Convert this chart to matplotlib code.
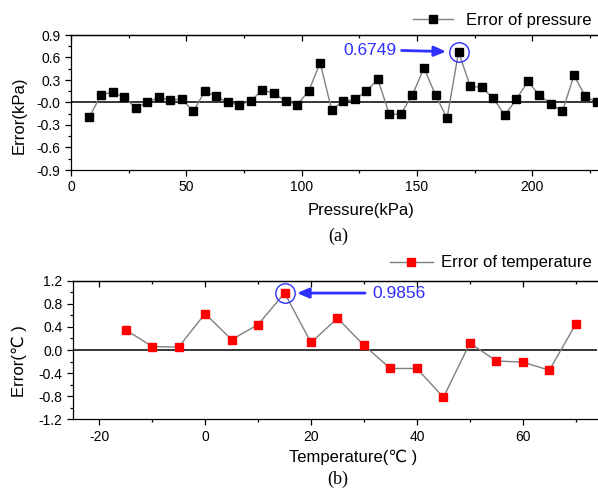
import numpy as np
import matplotlib
matplotlib.use("Agg")
import matplotlib.pyplot as plt
from matplotlib.ticker import MultipleLocator

plt.rcParams.update({
    "font.family": ["Liberation Sans", "DejaVu Sans"],
    "font.size": 10,
    "axes.linewidth": 0.9,
    "axes.unicode_minus": False,
})

# ---- data (a): pressure error ----
pressure = np.arange(8, 229, 5)
err_pressure = [-0.19, 0.10, 0.14, 0.07, -0.07, 0.00, 0.07, 0.03, 0.05, -0.12,
                0.15, 0.08, 0.00, -0.03, 0.02, 0.17, 0.12, 0.02, -0.03, 0.15,
                0.53, -0.10, 0.02, 0.04, 0.15, 0.31, -0.16, -0.15, 0.10, 0.46,
                0.10, -0.21, 0.6749, 0.22, 0.20, 0.06, -0.17, 0.04, 0.28, 0.10,
                -0.02, -0.12, 0.36, 0.08, 0.00]
peak_p = (168, 0.6749)

# ---- data (b): temperature error ----
temperature = [-15, -10, -5, 0, 5, 10, 15, 20, 25, 30, 35, 40, 45, 50, 55, 60, 65, 70]
err_temperature = [0.35, 0.06, 0.05, 0.63, 0.18, 0.44, 0.9856, 0.13, 0.55, 0.08,
                   -0.32, -0.32, -0.82, 0.12, -0.19, -0.21, -0.35, 0.45]
peak_t = (15, 0.9856)

W, H = 598, 490
fig = plt.figure(figsize=(W / 100, H / 100), dpi=100)


def px(x0, y0, x1, y1):
    return [x0 / W, 1 - y1 / H, (x1 - x0) / W, (y1 - y0) / H]


BLUE = "#2f2fff"


def style(ax):
    ax.spines["right"].set_visible(False)
    ax.tick_params(which="both", direction="out", top=False, right=False, labelsize=10)
    ax.tick_params(which="major", length=4, width=0.9)
    ax.tick_params(which="minor", length=2.5, width=0.9)
    ax.axhline(0, color="black", linewidth=1.1, zorder=1)
    sec = ax.secondary_xaxis("top")
    sec.tick_params(which="both", direction="in", labeltop=False)
    sec.tick_params(which="major", length=4, width=0.9)
    sec.tick_params(which="minor", length=2.5, width=0.9)
    sec.xaxis.set_major_locator(ax.xaxis.get_major_locator())
    sec.xaxis.set_minor_locator(ax.xaxis.get_minor_locator())
    sec.spines["top"].set_linewidth(0.9)


# ===== panel (a) =====
ax1 = fig.add_axes(px(71, 35, 597, 170))
l1, = ax1.plot(pressure, err_pressure, color="#808080", linewidth=1.0,
               marker="s", markersize=5.2, markerfacecolor="black",
               markeredgecolor="black", label="Error of pressure", zorder=3)
ax1.set_xlim(0, 228)
ax1.set_ylim(-0.9, 0.9)
ax1.xaxis.set_major_locator(MultipleLocator(50))
ax1.xaxis.set_minor_locator(MultipleLocator(25))
ax1.yaxis.set_minor_locator(MultipleLocator(0.15))
ax1.set_yticks(np.arange(-0.9, 0.91, 0.3))
ax1.set_yticklabels([f"{v:.1f}" for v in np.arange(-0.9, 0.91, 0.3)])
style(ax1)

ax1.plot(*peak_p, marker="o", markersize=14, markerfacecolor="none",
         markeredgecolor=BLUE, markeredgewidth=1.0, zorder=4)
ax1.annotate("", xy=peak_p, xytext=(-41, 1), textcoords="offset points",
             arrowprops=dict(arrowstyle="-|>,head_length=0.7,head_width=0.3",
                             color=BLUE, lw=2, shrinkA=0, shrinkB=9))
ax1.annotate("0.6749", xy=peak_p, xytext=(-45, 1), textcoords="offset points",
             ha="right", va="center", color=BLUE, fontsize=12.5)

ax1.legend(handles=[l1], loc="center right", bbox_to_anchor=(592 / W, 1 - 20 / H),
           bbox_transform=fig.transFigure, frameon=False, fontsize=12,
           handlelength=2.4, handletextpad=0.8, borderpad=0, borderaxespad=0)

fig.text(361 / W, 1 - 210 / H, "Pressure(kPa)", ha="center", va="center", fontsize=12)
fig.text(19 / W, 1 - 115 / H, "Error(kPa)", ha="center", va="center",
         rotation=90, fontsize=12)
fig.text(338 / W, 1 - 236 / H, "(a)", ha="center", va="center", fontsize=13,
         family="Liberation Serif")

# ===== panel (b) =====
ax2 = fig.add_axes(px(72.7, 280.7, 597, 419.3))
l2, = ax2.plot(temperature, err_temperature, color="#808080", linewidth=1.0,
               marker="s", markersize=5.2, markerfacecolor="red",
               markeredgecolor="red", label="Error of temperature", zorder=3)
ax2.set_xlim(-25, 74)
ax2.set_ylim(-1.2, 1.2)
ax2.xaxis.set_major_locator(MultipleLocator(20))
ax2.xaxis.set_minor_locator(MultipleLocator(10))
ax2.yaxis.set_major_locator(MultipleLocator(0.4))
ax2.yaxis.set_minor_locator(MultipleLocator(0.2))
style(ax2)

ax2.plot(*peak_t, marker="o", markersize=14, markerfacecolor="none",
         markeredgecolor=BLUE, markeredgewidth=1.0, zorder=4)
ax2.annotate("", xy=peak_t, xytext=(58, 0), textcoords="offset points",
             arrowprops=dict(arrowstyle="-|>,head_length=0.7,head_width=0.3",
                             color=BLUE, lw=2, shrinkA=0, shrinkB=9))
ax2.annotate("0.9856", xy=peak_t, xytext=(63, 0), textcoords="offset points",
             ha="left", va="center", color=BLUE, fontsize=12.5)

ax2.legend(handles=[l2], loc="center right", bbox_to_anchor=(592 / W, 1 - 263 / H),
           bbox_transform=fig.transFigure, frameon=False, fontsize=12,
           handlelength=2.6, handletextpad=0.5, borderpad=0, borderaxespad=0)

fig.text(353 / W, 1 - 457 / H, "Temperature(\u2103 )", ha="center", va="center", fontsize=12)
fig.text(19 / W, 1 - 361 / H, "Error(\u2103 )", ha="center", va="center",
         rotation=90, fontsize=12)
fig.text(338 / W, 1 - 479 / H, "(b)", ha="center", va="center", fontsize=13,
         family="Liberation Serif")

fig.savefig("out.png", dpi=100)
